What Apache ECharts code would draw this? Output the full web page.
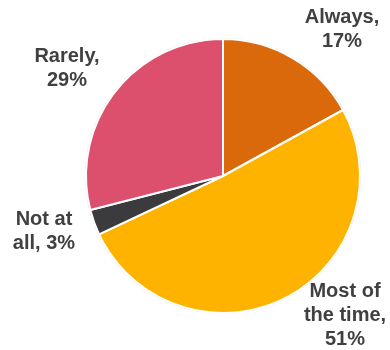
<!DOCTYPE html>
<html>
<head>
<meta charset="utf-8">
<script src="https://cdn.jsdelivr.net/npm/echarts@6/dist/echarts.min.js"></script>
<style>
  html, body { margin: 0; padding: 0; background: #fff; }
  #chart { width: 390px; height: 350px; }
</style>
</head>
<body>
<div id="chart"></div>
<script>
var categories = ['Always', 'Most of the time', 'Not at all', 'Rarely'];
var values = [17, 51, 3, 29];
var colors = ['#d9690b', '#fdb300', '#3b3b3d', '#dc4f6d'];

// how each label wraps in the original
var wrapped = {
  'Always': 'Always,',
  'Most of the time': 'Most of\nthe time,',
  'Not at all': 'Not at\nall,',
  'Rarely': 'Rarely,'
};
// label block centres
var labelSpots = [[342, 29], [345, 315], [44, 231], [67, 68]];

var chart = echarts.init(document.getElementById('chart'));
chart.setOption({
  animation: false,
  series: [
    {
      type: 'pie',
      silent: true,
      center: [223, 176],
      radius: 138,
      startAngle: 90,
      data: [{ value: 1, itemStyle: { color: '#cfcfcf' } }],
      label: { show: false },
      labelLine: { show: false }
    },
    {
      type: 'pie',
      center: [223, 176],
      radius: 137,
      startAngle: 90,
      clockwise: true,
      data: categories.map(function (c, i) {
        return { name: c, value: values[i], itemStyle: { color: colors[i] } };
      }),
      itemStyle: { borderColor: '#fff', borderWidth: 2 },
      label: {
        show: true,
        position: 'outside',
        overflow: 'none',
        formatter: function (p) { return wrapped[p.name] + (p.name === 'Not at all' ? ' ' : '\n') + p.value + '%'; },
        fontFamily: 'Liberation Sans, Arial, sans-serif',
        fontWeight: 'bold',
        fontSize: 20,
        lineHeight: 24,
        color: '#404040',
        align: 'center'
      },
      labelLine: { show: false },
      labelLayout: function (p) {
        var s = labelSpots[p.dataIndex];
        return { x: s[0], y: s[1], align: 'center', verticalAlign: 'middle' };
      }
    }
  ]
});
</script>
</body>
</html>
